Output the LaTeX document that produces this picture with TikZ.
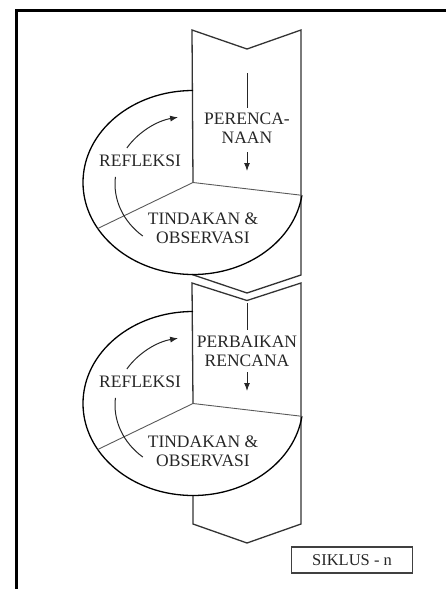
\documentclass[tikz,border=0pt]{standalone}
\usepackage{fontspec}
\setmainfont{Liberation Serif}
\usetikzlibrary{arrows.meta}

\tikzset{
  blockline/.style={draw=black!80, line width=1.3pt, line join=miter},
  cycleline/.style={draw=black, line width=1.3pt},
  splitline/.style={draw=black!65, line width=0.9pt},
  flowline/.style={draw=black!85, line width=1pt},
  flowarrow/.style={draw=black!85, line width=1pt, -{Latex[length=8pt,width=6pt]}},
  lbl/.style={font=\fontsize{17.5}{19}\selectfont, text=black!85, align=center, inner sep=0pt},
  tagbox/.style={draw=black!75, line width=1.3pt, minimum width=121pt, minimum height=26pt,
    font=\fontsize{16.5}{19}\selectfont, text=black!85, inner sep=0pt}
}

\begin{document}
\begin{tikzpicture}[x=1pt,y=-1pt]
  \useasboundingbox (0,0) rectangle (446,589);

  % page frame (top and left edges)
  \draw[line width=3pt] (16.5,589) -- (16.5,10.5) -- (446,10.5);

  % ---------- first cycle ----------
  \coordinate (c1) at (193,182.5);
  \coordinate (b1tl) at (192,30);
  \coordinate (b1tm) at (247,49);
  \coordinate (b1tr) at (301,30);
  \coordinate (b1br) at (301,275);
  \coordinate (b1bm) at (247,293);
  \coordinate (b1bl) at (192,274.5);

  % planning block
  \draw[blockline] (c1) -- (b1tl) -- (b1tm) -- (b1tr) -- (b1br) -- (b1bm) -- (b1bl);
  % cycle ellipse: top, left, bottom and lower right part
  \draw[cycleline] ([shift={(270:110 and 92)}]c1) arc[start angle=270, end angle=8, x radius=110, y radius=92];
  % section divisions
  \draw[splitline] (c1) -- ([shift={(8:110 and 92)}]c1);
  \draw[splitline] (c1) -- ([shift={(150:110 and 92)}]c1);
  % circular arrows
  \coordinate (i1) at (193,184);
  \draw[flowarrow] ([shift={(212:78 and 68)}]i1) arc[start angle=212, end angle=259, x radius=78, y radius=68];
  \draw[flowline] ([shift={(186:78 and 68)}]i1) arc[start angle=186, end angle=130, x radius=78, y radius=68];
  % flow inside the block
  \coordinate (p1a) at (247,73);
  \coordinate (p1b) at (247,108);
  \draw[flowline] (p1a) -- (p1b);
  \coordinate (p1c) at (247,152);
  \coordinate (p1d) at (247,171);
  \draw[flowarrow] (p1c) -- (p1d);

  \node[lbl] (plan1) at (247,128) {PERENCA-\\NAAN};
  \node[lbl] (refl1) at (140,161) {REFLEKSI};
  \node[lbl] (act1) at (203,228) {TINDAKAN \&\\OBSERVASI};

  % ---------- second cycle ----------
  \coordinate (c2) at (193,403.5);
  \coordinate (b2tl) at (192,283);
  \coordinate (b2tm) at (247,300.5);
  \coordinate (b2tr) at (301,283);
  \coordinate (b2br) at (301,524);
  \coordinate (b2bm) at (247,543);
  \coordinate (b2bl) at (193,524);
  \coordinate (b2el) at (193,495.5);

  \draw[blockline] (c2) -- (b2tl) -- (b2tm) -- (b2tr) -- (b2br) -- (b2bm) -- (b2bl) -- (b2el);
  \draw[cycleline] ([shift={(270:110 and 92)}]c2) arc[start angle=270, end angle=8, x radius=110, y radius=92];
  \draw[splitline] (c2) -- ([shift={(8:110 and 92)}]c2);
  \draw[splitline] (c2) -- ([shift={(150:110 and 92)}]c2);
  \coordinate (i2) at (193,405);
  \draw[flowarrow] ([shift={(212:78 and 68)}]i2) arc[start angle=212, end angle=259, x radius=78, y radius=68];
  \draw[flowline] ([shift={(186:78 and 68)}]i2) arc[start angle=186, end angle=130, x radius=78, y radius=68];
  \coordinate (p2a) at (247,303);
  \coordinate (p2b) at (247,330);
  \draw[flowline] (p2a) -- (p2b);
  \coordinate (p2c) at (247,372);
  \coordinate (p2d) at (247,391);
  \draw[flowarrow] (p2c) -- (p2d);

  \node[lbl] (plan2) at (247,351) {PERBAIKAN\\RENCANA};
  \node[lbl] (refl2) at (140,382) {REFLEKSI};
  \node[lbl] (act2) at (203,451) {TINDAKAN \&\\OBSERVASI};

  % cycle tag
  \node[tagbox] (tag) at (352,560) {SIKLUS - n};
\end{tikzpicture}
\end{document}
